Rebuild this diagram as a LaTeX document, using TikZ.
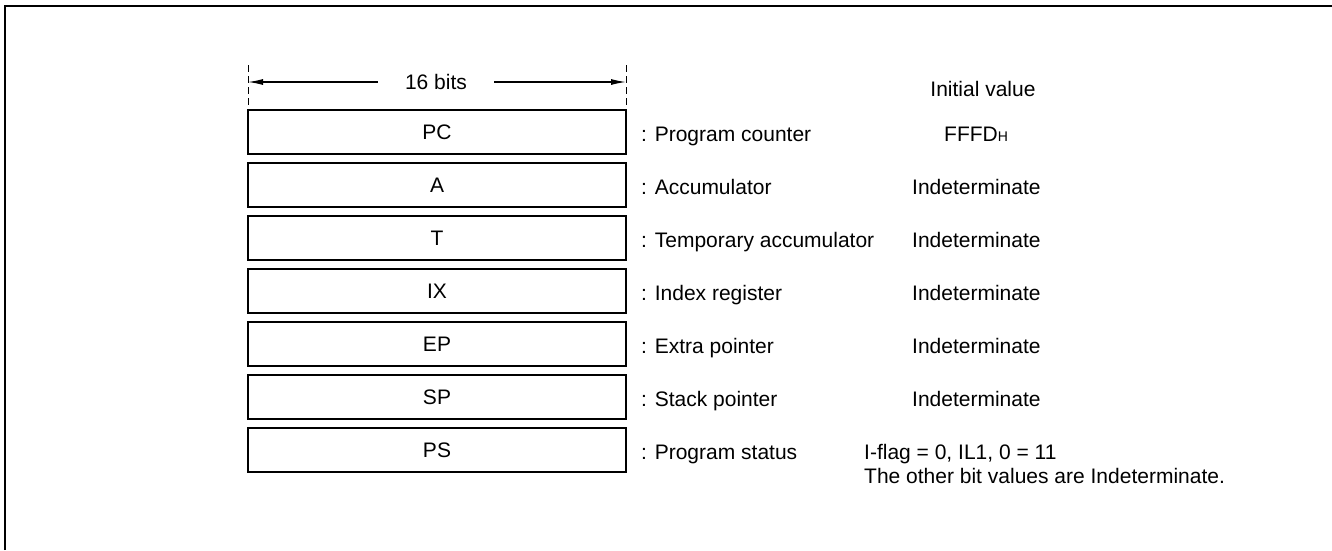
\documentclass[tikz,border=0pt]{standalone}
\usepackage{fontspec}
\setmainfont{Liberation Sans}
\usetikzlibrary{arrows.meta}
\begin{document}
\begin{tikzpicture}[x=1pt,y=-1pt,
  every node/.style={font=\fontsize{21}{24}\selectfont},
  regbox/.style={draw,line width=2pt,minimum width=378pt,minimum height=44pt,inner sep=0pt},
  lbl/.style={anchor=base west,inner sep=0pt},
  val/.style={anchor=base west,inner sep=0pt},
  tick/.style={dash pattern=on 7pt off 4pt,line width=0.8pt},
  dimarrow/.style={line width=1.2pt,-{Latex[length=15pt,width=6pt]}}]
\useasboundingbox (0,0) rectangle (1332,550);
% frame
\coordinate (f0) at (5,550);
\coordinate (f1) at (5,6);
\coordinate (f2) at (1332,6);
\draw[line width=2pt] (f0) -- (f1) -- (f2);
% width indicator
\coordinate (tl0) at (248,65);
\coordinate (tl1) at (248,110);
\coordinate (tr0) at (626,65);
\coordinate (tr1) at (626,110);
\draw[tick] (tl0) -- (tl1);
\draw[tick] (tr0) -- (tr1);
\node[inner xsep=27pt,inner ysep=0pt] (bits) at (436,82) {16 bits};
\coordinate (al) at (248,82);
\coordinate (ar) at (626,82);
\draw[dimarrow] (bits.west) -- (al);
\draw[dimarrow] (bits.east) -- (ar);
\node[anchor=base,inner sep=0pt] (iv) at (983,96) {Initial value};
% registers
\node[regbox] (pc) at (437,132) {PC};
\node[regbox] (a)  at (437,185) {A};
\node[regbox] (t)  at (437,238) {T};
\node[regbox] (ix) at (437,291) {IX};
\node[regbox] (ep) at (437,344) {EP};
\node[regbox] (sp) at (437,397) {SP};
\node[regbox] (ps) at (437,450) {PS};
% labels
\node[lbl] (lpc) at (641,141) {: Program counter};
\node[lbl] (la)  at (641,194) {: Accumulator};
\node[lbl] (lt)  at (641,247) {: Temporary accumulator};
\node[lbl] (lix) at (641,300) {: Index register};
\node[lbl] (lep) at (641,353) {: Extra pointer};
\node[lbl] (lsp) at (641,406) {: Stack pointer};
\node[lbl] (lps) at (641,459) {: Program status};
% initial values
\node[val] (vpc) at (944,141) {FFFD{\fontsize{14}{14}\selectfont H}};
\node[val] (va)  at (912,194) {Indeterminate};
\node[val] (vt)  at (912,247) {Indeterminate};
\node[val] (vix) at (912,300) {Indeterminate};
\node[val] (vep) at (912,353) {Indeterminate};
\node[val] (vsp) at (912,406) {Indeterminate};
\node[val] (vps) at (864,459) {I-flag = 0, IL1, 0 = 11};
\node[val] (vps2) at (864,483) {The other bit values are Indeterminate.};
\end{tikzpicture}
\end{document}
